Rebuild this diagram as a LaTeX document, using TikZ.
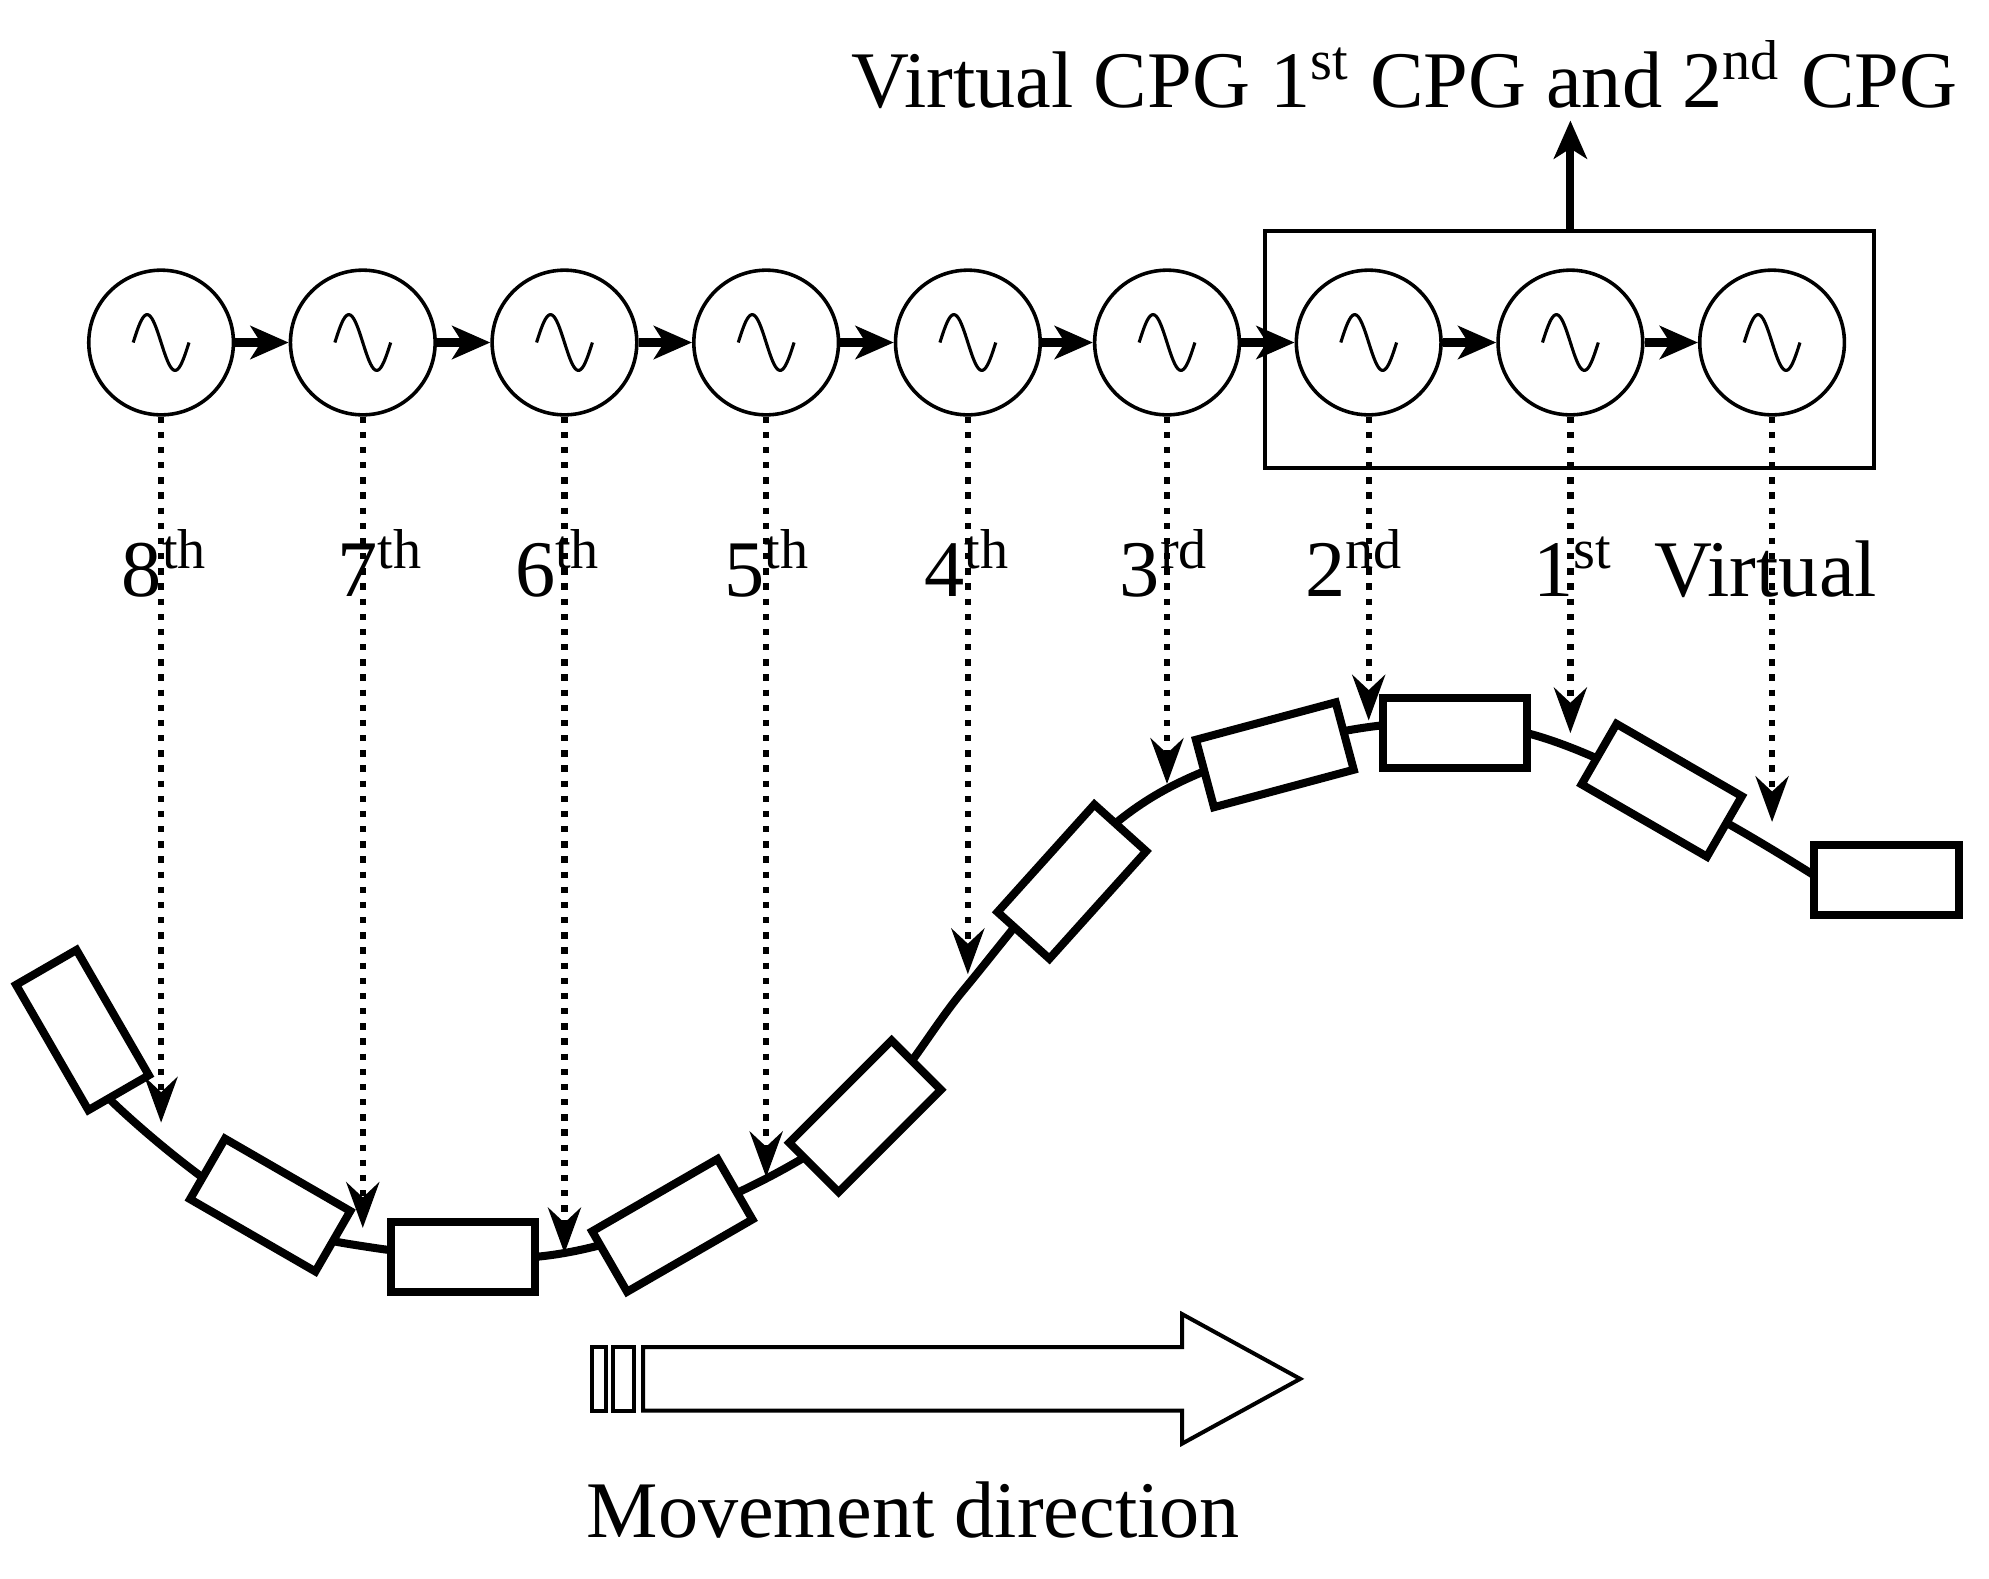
\documentclass[tikz,border=0pt]{standalone}
\usepackage{fontspec}
\setmainfont{Liberation Serif}
\usetikzlibrary{arrows.meta}
\begin{document}
\begin{tikzpicture}[x=0.01cm,y=-0.01cm,
  osc/.style={circle,draw,line width=0.8pt,minimum size=1.14cm,inner sep=0pt},
  flow/.style={line width=1.8pt,-{Stealth[length=0.3cm,width=0.26cm,inset=0.08cm]}},
  drop/.style={dotted,line width=1.4pt,-{Stealth[length=0.36cm,width=0.26cm,inset=0.12cm]}},
  seg/.style={draw,line width=1.8pt,fill=white,minimum width=1.14cm,minimum height=0.55cm,inner sep=0pt},
  lbl/.style={font=\fontsize{18}{20}\selectfont,inner sep=0pt,anchor=base}]
\useasboundingbox (0,0) rectangle (1568,1244);
% oscillators
\foreach \i/\x in {1/127,2/286,3/445,4/604,5/763,6/920,7/1079,8/1238,9/1397}{
  \node[osc] (c\i) at (\x,270) {};
  \draw[line width=0.7pt] plot[variable=\t,domain=0:360,samples=40,smooth] ({\x-22+44*\t/360},{270-22*sin(\t)});
}
\foreach \a/\b in {1/2,2/3,3/4,4/5,5/6,6/7,7/8,8/9}{\draw[flow] (c\a) -- (c\b);}
% group box and output arrow
\node[draw,line width=0.9pt,minimum width=4.8cm,minimum height=1.87cm,inner sep=0pt] (grp) at (1237,275.5) {};
\node[lbl] (title) at (1107,85) {Virtual CPG 1\textsuperscript{st} CPG and 2\textsuperscript{nd} CPG};
\coordinate (up) at (1238,95);
\draw[flow] (grp.north -| up) -- (up);
% body curve
\draw[line width=1.8pt] plot[smooth,tension=0.6] coordinates {(15,780) (90,870) (200,955) (290,983) (430,990) (560,950) (680,880) (760,780) (850,675) (940,612) (1080,573) (1200,577) (1330,632) (1430,690)};
% curve attachment points
\foreach \i/\x/\y in {1/127/885,2/286/968,3/445/988,4/604/928,5/763/768,6/920/618,7/1079/568,8/1238/578,9/1397/648}{\coordinate (p\i) at (\x,\y);}
\foreach \i in {1,...,9}{\draw[drop] (c\i) -- (p\i);}
% segments
\node[seg,rotate=-60] (s1) at (65,812) {};
\node[seg,rotate=-30] (s2) at (213,950) {};
\node[seg] (s3) at (365,991) {};
\node[seg,rotate=30] (s4) at (530,966) {};
\node[seg,rotate=45] (s5) at (682,880) {};
\node[seg,rotate=48] (s6) at (845,695) {};
\node[seg,rotate=15] (s7) at (1005,595) {};
\node[seg] (s8) at (1147,578) {};
\node[seg,rotate=-30] (s9) at (1310,623) {};
\node[seg] (s10) at (1487,694) {};
% labels
\node[lbl] (l8) at (130,470) {8\textsuperscript{th}};
\node[lbl] (l7) at (300,470) {7\textsuperscript{th}};
\node[lbl] (l6) at (440,470) {6\textsuperscript{th}};
\node[lbl] (l5) at (605,470) {5\textsuperscript{th}};
\node[lbl] (l4) at (763,470) {4\textsuperscript{th}};
\node[lbl] (l3) at (918,470) {3\textsuperscript{rd}};
\node[lbl] (l2) at (1068,470) {2\textsuperscript{nd}};
\node[lbl] (l1) at (1240,470) {1\textsuperscript{st}};
\node[lbl] (lv) at (1392,470) {Virtual};
% movement arrow
\draw[line width=0.9pt] (467,1062) rectangle (478,1112);
\draw[line width=0.9pt] (483,1062) rectangle (500,1112);
\draw[line width=0.9pt] (507,1062) -- (932,1062) -- (932,1036) -- (1025,1087) -- (932,1138) -- (932,1112) -- (507,1112) -- cycle;
\node[lbl] (mv) at (720,1212) {Movement direction};
\end{tikzpicture}
\end{document}
